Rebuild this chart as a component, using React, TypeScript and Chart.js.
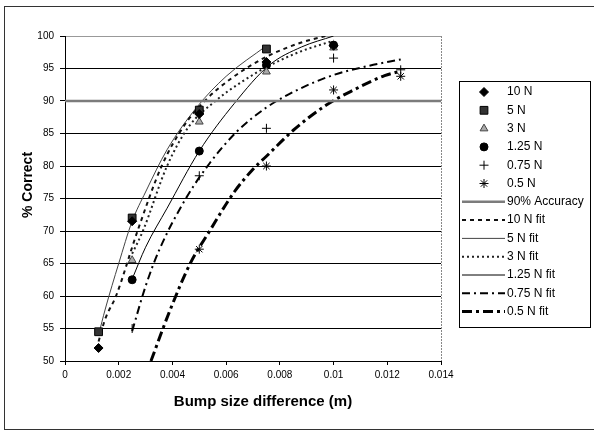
import React, { useEffect, useRef } from 'react';
import { Chart, registerables } from 'chart.js';
import * as helpers from 'chart.js/helpers';

Chart.register(...registerables);

const FONT = "'Liberation Sans', Arial, Helvetica, sans-serif";

// Bump size differences (m) at which each force level was measured
const xLevels = [0.00125, 0.0025, 0.005, 0.0075, 0.01, 0.0125];

// % Correct per force level (null = not shown)
const n10 = [52, 71.5, 88, 96, 98.5, null];
const n5 = [54.5, 72, 88.6, 98, null, null];
const n3 = [null, 65.5, 86.8, 94.5, 98.2, null];
const n125 = [null, 62.5, 82.3, 95.5, 98.6, null];
const n075 = [null, 55, 78.5, 85.8, 96.6, 94.8];
const n05 = [null, null, 67.2, 80, 91.7, 93.8];

// 90% accuracy reference line
const accX = [0, 0.014];
const accY = [90, 90];

// Fitted curves
const fit10X = [0.00125, 0.0015, 0.0019, 0.0027, 0.0036, 0.0044, 0.0052, 0.0062, 0.0075, 0.0088, 0.0097];
const fit10Y = [53, 56.5, 60, 70, 80, 86, 90, 93.5, 96.8, 99, 100];
const fit5X = [0.00125, 0.0015, 0.002, 0.0025, 0.003, 0.0038, 0.0049, 0.006, 0.0075];
const fit5Y = [54, 58, 65, 71.5, 76, 82.5, 89, 93.8, 98.5];
const fit3X = [0.0025, 0.0029, 0.0038, 0.0046, 0.0056, 0.0066, 0.0075, 0.0087, 0.01];
const fit3Y = [66.5, 70, 80, 86, 90, 93, 95.2, 97.5, 99.3];
const fit125X = [0.0025, 0.003, 0.0038, 0.005, 0.0063, 0.0076, 0.0088, 0.01];
const fit125Y = [62.6, 67.5, 73.5, 82.3, 89.6, 95.5, 98.3, 100];
const fit075X = [0.0025, 0.003, 0.0035, 0.0045, 0.0054, 0.0064, 0.0075, 0.0087, 0.01, 0.0113, 0.0125];
const fit075Y = [54.6, 61.5, 67, 75, 80.5, 85.3, 89, 91.8, 94, 95.4, 96.4];
const fit05X = [0.0032, 0.0039, 0.00465, 0.0054, 0.0063, 0.007, 0.0075, 0.0085, 0.0097, 0.0107, 0.0119, 0.0125];
const fit05Y = [50, 57.7, 64.9, 70.1, 76, 79.5, 81.5, 85.5, 89.3, 91.6, 93.9, 94.6];

const xTickLabels = ['0', '0.002', '0.004', '0.006', '0.008', '0.01', '0.012', '0.014'];

const xTitle = 'Bump size difference (m)';
const yTitle = '% Correct';

function pts(xs: number[], ys: (number | null)[]) {
  const out: { x: number; y: number }[] = [];
  xs.forEach((x, i) => {
    const y = ys[i];
    if (y !== null && y !== undefined) out.push({ x, y });
  });
  return out;
}

function markerSet(label: string, ys: (number | null)[], style: string, radius: number, fill: string, stroke: string) {
  return {
    label,
    data: pts(xLevels, ys),
    showLine: false,
    pointStyle: style,
    pointRadius: radius,
    pointHoverRadius: radius,
    backgroundColor: fill,
    borderColor: stroke,
    pointBackgroundColor: fill,
    pointBorderColor: stroke,
    pointBorderWidth: 1,
    borderWidth: 1,
    isFit: false,
  };
}

function lineSet(label: string, xs: number[], ys: number[], color: string, width: number, dash: number[]) {
  return {
    label,
    data: pts(xs, ys),
    showLine: true,
    pointRadius: 0,
    pointHoverRadius: 0,
    borderColor: color,
    backgroundColor: color,
    borderWidth: width,
    borderDash: dash,
    cubicInterpolationMode: 'monotone',
    fill: false,
    isFit: true,
  };
}

const framePlugin = {
  id: 'frame',
  beforeDraw(chart: any) {
    const ctx = chart.ctx;
    ctx.save();
    ctx.fillStyle = '#fff';
    ctx.fillRect(0, 0, chart.width, chart.height);
    ctx.strokeStyle = '#333';
    ctx.lineWidth = 1;
    ctx.strokeRect(4.5, 6.5, 620, 423);
    ctx.restore();
  },
  afterDatasetsDraw(chart: any) {
    const ctx = chart.ctx;
    const a = chart.chartArea;
    ctx.save();
    ctx.strokeStyle = '#888';
    ctx.lineWidth = 1;
    ctx.setLineDash([2, 1]);
    ctx.beginPath();
    ctx.moveTo(Math.round(a.right) + 0.5, a.top);
    ctx.lineTo(Math.round(a.right) + 0.5, a.bottom);
    ctx.stroke();
    ctx.restore();
  },
  afterDraw(chart: any) {
    const ctx = chart.ctx;
    ctx.save();
    ctx.fillStyle = '#000';
    ctx.textAlign = 'center';
    ctx.textBaseline = 'middle';
    ctx.font = `bold 15px ${FONT}`;
    ctx.fillText(xTitle, 263, 402);
    ctx.translate(28, 185);
    ctx.rotate(-Math.PI / 2);
    ctx.font = `bold 14px ${FONT}`;
    ctx.fillText(yTitle, 0, 0);
    ctx.restore();

    // legend
    ctx.save();
    ctx.strokeStyle = '#000';
    ctx.lineWidth = 1;
    ctx.strokeRect(459.5, 81.5, 131, 246);
    ctx.font = `12px ${FONT}`;
    ctx.textAlign = 'left';
    ctx.textBaseline = 'middle';
    chart.data.datasets.forEach((ds: any, i: number) => {
      const y = 92 + i * 18.3;
      if (ds.isFit) {
        ctx.save();
        ctx.strokeStyle = ds.borderColor;
        ctx.lineWidth = ds.borderWidth;
        ctx.setLineDash(ds.borderDash || []);
        ctx.beginPath();
        ctx.moveTo(462, y);
        ctx.lineTo(505, y);
        ctx.stroke();
        ctx.restore();
      } else {
        ctx.save();
        ctx.fillStyle = ds.pointBackgroundColor;
        ctx.strokeStyle = ds.pointBorderColor;
        ctx.lineWidth = ds.pointBorderWidth;
        helpers.drawPoint(ctx, { pointStyle: ds.pointStyle, radius: ds.pointRadius, borderWidth: ds.pointBorderWidth, rotation: 0 } as any, 484, y);
        ctx.restore();
      }
      ctx.fillStyle = '#000';
      ctx.fillText(ds.label, 507, y);
    });
    ctx.restore();
  },
};

export default function App() {
  const ref = useRef<HTMLCanvasElement | null>(null);

  useEffect(() => {
    if (!ref.current) return;
    const datasets: any[] = [
      markerSet('10 N', n10, 'rectRot', 4.5, '#000', '#000'),
      markerSet('5 N', n5, 'rect', 5.5, '#333', '#000'),
      markerSet('3 N', n3, 'triangle', 4.5, '#aaa', '#444'),
      markerSet('1.25 N', n125, 'circle', 4, '#000', '#000'),
      markerSet('0.75 N', n075, 'cross', 4.5, '#000', '#000'),
      markerSet('0.5 N', n05, 'star', 4.5, '#000', '#000'),
      lineSet('90% Accuracy', accX, accY, '#7c7c7c', 2.5, []),
      lineSet('10 N fit', fit10X, fit10Y, '#111', 2, [4, 4]),
      lineSet('5 N fit', fit5X, fit5Y, '#444', 1, []),
      lineSet('3 N fit', fit3X, fit3Y, '#222', 2, [2, 3]),
      lineSet('1.25 N fit', fit125X, fit125Y, '#000', 1, []),
      lineSet('0.75 N fit', fit075X, fit075Y, '#000', 2, [8, 4, 2, 4]),
      lineSet('0.5 N fit', fit05X, fit05Y, '#000', 3, [10, 4, 3, 4]),
    ];

    const chart = new Chart(ref.current, {
      type: 'scatter',
      data: { datasets },
      options: {
        responsive: false,
        animation: false,
        events: [],
        layout: { padding: { left: 0, right: 153, top: 36, bottom: 0 } },
        plugins: {
          legend: { display: false },
          title: { display: false },
          tooltip: { enabled: false },
        },
        scales: {
          x: {
            type: 'linear',
            min: 0,
            max: 0.014,
            ticks: {
              stepSize: 0.002,
              autoSkip: false,
              maxRotation: 0,
              color: '#000',
              padding: 4,
              font: { family: FONT, size: 10 },
              callback: (v: any) => xTickLabels[Math.round(Number(v) / 0.002)],
            },
            grid: { drawOnChartArea: false, drawTicks: true, tickLength: 4, tickColor: '#000' },
            border: { color: '#000', width: 1 },
            afterFit: (s: any) => { s.height = 73; },
          },
          y: {
            min: 50,
            max: 100,
            ticks: {
              stepSize: 5,
              color: '#000',
              padding: 6,
              font: { family: FONT, size: 10 },
            },
            grid: {
              color: (c: any) => (c.tick && c.tick.value === 100 ? '#999' : '#000'),
              lineWidth: 1,
              tickLength: 5,
              tickColor: '#000',
            },
            border: { color: '#000', width: 1 },
            afterFit: (s: any) => { s.width = 65; },
          },
        },
      } as any,
      plugins: [framePlugin],
    });
    return () => chart.destroy();
  }, []);

  return (
    <div style={{ position: 'absolute', left: 0, top: 0, width: 594, height: 434, background: '#fff' }}>
      <canvas ref={ref} width={594} height={434} style={{ display: 'block', width: 594, height: 434 }} />
    </div>
  );
}
